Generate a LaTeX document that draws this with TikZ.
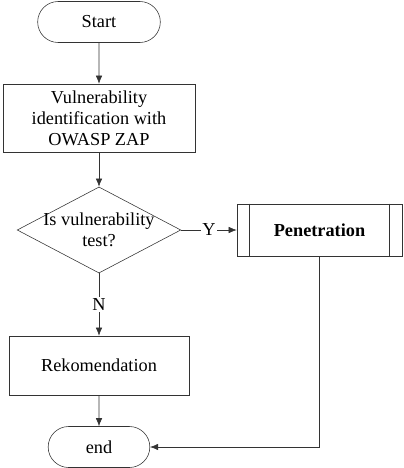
\documentclass[tikz,border=0pt]{standalone}
\usepackage{fontspec}
\setmainfont{Liberation Serif}
\usetikzlibrary{shapes.geometric,shapes.misc,arrows.meta}
\begin{document}
\begin{tikzpicture}[x=0.025cm,y=-0.025cm,draw=black!80,>={Latex[length=2mm,width=1.6mm]},
	every node/.style={font=\fontsize{13}{15}\selectfont},
	term/.style={rounded rectangle, draw, minimum height=1.025cm},
	proc/.style={rectangle, draw, align=center, inner sep=0pt},
	decide/.style={diamond, draw, align=center, aspect=1.9, inner sep=-1.5pt, minimum width=3.925cm, minimum height=2.05cm}]
	\useasboundingbox (0,0) rectangle (403,468);
	\node (S) at ( 99,  22)	[term, minimum width=3.3cm]	{Start};
	\node (V) at ( 99, 118)	[proc, minimum width=4.8cm, minimum height=1.7cm]	{Vulnerability\\identification with\\OWASP ZAP};
	\node (D) at ( 99, 230)	[decide]	{Is vulnerability\\test?};
	\node (P) at (319.5, 230)	[proc, minimum width=4.125cm, minimum height=1.3cm, font=\fontsize{13}{15}\selectfont\bfseries]	{Penetration};
	\node (R) at ( 99, 365.5)	[proc, minimum width=4.5cm, minimum height=1.475cm]	{Rekomendation};
	\node (E) at ( 99, 447)	[term, minimum width=2.775cm]	{end};
	\draw ([xshift=0.325cm]P.north west) -- ([xshift=0.325cm]P.south west);
	\draw ([xshift=-0.325cm]P.north east) -- ([xshift=-0.325cm]P.south east);
	\draw[->] (S) -- (V);
	\draw[->] (V) -- (D);
	\draw[->] (D) -- node[fill=white, inner sep=1pt] {Y} (P);
	\draw[->] (D) -- node[fill=white, inner sep=1pt] {N} (R);
	\draw[->] (R) -- (E);
	\draw[->] (P.south) |- (E.east);
\end{tikzpicture}
\end{document}
